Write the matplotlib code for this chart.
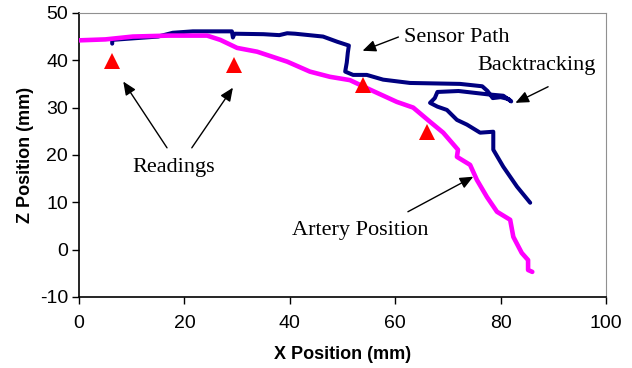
import numpy as np
import matplotlib
matplotlib.use("Agg")
import matplotlib.pyplot as plt

plt.rcParams['axes.unicode_minus'] = False

# artery position (magenta trace)
artery_x = [0, 5, 10.2, 17, 24.3, 26.8, 30, 33.8, 39.5, 43.8, 47.6, 51.4, 55.2,
            60.3, 63.4, 66.6, 69.1, 71.9, 71.7, 74.2, 75.5, 77.4, 79.3, 81.8,
            82.4, 84.0, 85.2, 85.2, 86.0]
artery_z = [44.2, 44.4, 45.0, 45.2, 45.2, 44.3, 42.6, 41.8, 39.7, 37.6, 36.5, 35.8, 33.8,
            31.2, 30.0, 27.0, 24.7, 21.1, 19.6, 17.9, 14.7, 11.1, 8.0, 6.3,
            2.7, -0.7, -2.2, -4.3, -4.7]

# sensor path (navy trace), including the backtracking loop
sensor_x = [6.3, 6.3, 10, 15, 17.8, 21.6, 29.0, 29.2, 29.5, 35, 38, 39.5, 41,
            46.3, 49, 51.2, 51.0, 50.8, 50.5, 52, 54.6, 57.7, 62.8, 72.3, 76.5,
            77.5, 78.5, 80, 81.5, 82, 80.5, 77.5, 72, 68, 67.5, 66.6, 68,
            69.8, 71.7, 73.6, 76.1, 78.6, 78.6, 80.5, 83.1, 85.6]
sensor_z = [43.5, 44.3, 44.6, 45.0, 45.8, 46.1, 46.1, 44.8, 45.6, 45.5, 45.3, 45.7, 45.6,
            45.0, 43.9, 43.1, 41.6, 39.5, 37.6, 36.9, 36.9, 35.9, 35.2, 35.0, 34.5,
            33.5, 32.0, 32.2, 31.8, 31.3, 32.5, 32.8, 33.5, 33.3, 32.0, 31.0, 30.2,
            29.5, 27.4, 26.4, 24.7, 24.9, 21.1, 17.5, 13.3, 9.9]

# readings (red triangles)
read_x = [6.3, 29.5, 53.9, 66.0]
read_z = [39.8, 38.9, 34.7, 24.8]

fig = plt.figure(figsize=(6.32, 3.68), dpi=100)
ax = fig.add_axes([0.125, 0.193, 0.834, 0.772])

ax.plot(sensor_x, sensor_z, color='#000080', lw=2.9, solid_joinstyle='round',
        solid_capstyle='round', zorder=2)
ax.plot(artery_x, artery_z, color='#FF00FF', lw=3.3, solid_joinstyle='round',
        solid_capstyle='round', zorder=3)
ax.plot(read_x, read_z, linestyle='none', marker='^', color='#FF0000',
        markersize=11, markeredgewidth=0, zorder=4)

ax.set_xlim(0, 100)
ax.set_ylim(-10, 50)
ax.set_xticks(range(0, 101, 20))
ax.set_yticks(range(-10, 51, 10))

tick_font = ['Liberation Sans Narrow', 'Liberation Sans', 'DejaVu Sans']
for lab in ax.get_xticklabels() + ax.get_yticklabels():
    lab.set_family(tick_font)
    lab.set_fontsize(14)
ax.tick_params(direction='out', length=5, width=1, color='black')
ax.tick_params(axis='x', pad=8)
ax.tick_params(axis='y', pad=3)

for s in ['top', 'right']:
    ax.spines[s].set_color('#909090')
for s in ['left', 'bottom']:
    ax.spines[s].set_color('black')
    ax.spines[s].set_linewidth(1.2)

ax.set_xlabel('X Position (mm)', fontsize=13, fontweight='bold',
              family='Liberation Sans', labelpad=10)
ax.set_ylabel('Z Position (mm)', fontsize=13, fontweight='bold',
              family='Liberation Sans', labelpad=4)

serif = 'Liberation Serif'
arrow = dict(arrowstyle='-|>,head_length=0.8,head_width=0.35', color='black',
             lw=1, shrinkA=0, shrinkB=0)

ax.annotate('', xy=(53.8, 42.0), xytext=(60.6, 44.9), arrowprops=arrow)
ax.text(61.6, 44.9, 'Sensor Path', family=serif, fontsize=16, va='center', ha='left')

ax.annotate('', xy=(82.8, 31.0), xytext=(89.0, 34.4), arrowprops=arrow)
ax.text(75.6, 38.8, 'Backtracking', family=serif, fontsize=16, va='center', ha='left')

ax.annotate('', xy=(8.4, 35.5), xytext=(16.7, 21.5), arrowprops=arrow)
ax.annotate('', xy=(29.2, 34.2), xytext=(21.4, 21.5), arrowprops=arrow)
ax.text(18.0, 17.3, 'Readings', family=serif, fontsize=16, va='center', ha='center')

ax.annotate('', xy=(74.8, 15.4), xytext=(62.4, 8.0), arrowprops=arrow)
ax.text(66.4, 4.0, 'Artery Position', family=serif, fontsize=16, va='center', ha='right')

fig.savefig('out.png', dpi=100)
